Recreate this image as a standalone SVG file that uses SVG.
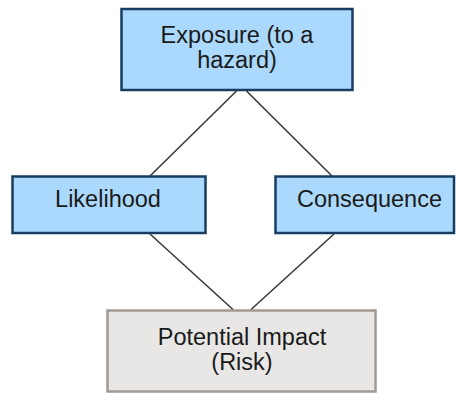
<svg xmlns="http://www.w3.org/2000/svg" width="456" height="394" viewBox="0 0 456 394">
  <style>
    .blue { fill: #abd9fd; stroke: #173d61; stroke-width: 2.5; }
    .grey { fill: #e8e7e6; stroke: #a19a94; stroke-width: 2.5; }
    .label { font-family: "Liberation Sans", Arial, sans-serif; font-size: 23.5px; fill: #1a1a1a; text-anchor: middle; }
    .link { stroke: #3a3a3a; stroke-width: 1.6; fill: none; }
  </style>
  <rect width="456" height="394" fill="#ffffff"/>

  <g id="connectors">
    <line class="link" x1="236.5" y1="91" x2="150" y2="176"/>
    <line class="link" x1="246.5" y1="91" x2="332" y2="176"/>
    <line class="link" x1="150" y1="234" x2="233.5" y2="310"/>
    <line class="link" x1="334" y1="234" x2="250.5" y2="310"/>
  </g>

  <g id="exposure">
    <rect class="blue" x="121.5" y="9" width="231" height="81"/>
    <text class="label" x="237" y="43">Exposure (to a</text>
    <text class="label" x="237" y="68">hazard)</text>
  </g>

  <g id="likelihood">
    <rect class="blue" x="12.5" y="176.5" width="193" height="56.5"/>
    <text class="label" x="108" y="207">Likelihood</text>
  </g>

  <g id="consequence">
    <rect class="blue" x="275.5" y="176.5" width="178.5" height="56.5"/>
    <text class="label" x="369.5" y="207">Consequence</text>
  </g>

  <g id="impact">
    <rect class="grey" x="107.5" y="310.5" width="268" height="81"/>
    <text class="label" x="242" y="345">Potential Impact</text>
    <text class="label" x="242" y="370">(Risk)</text>
  </g>
</svg>
